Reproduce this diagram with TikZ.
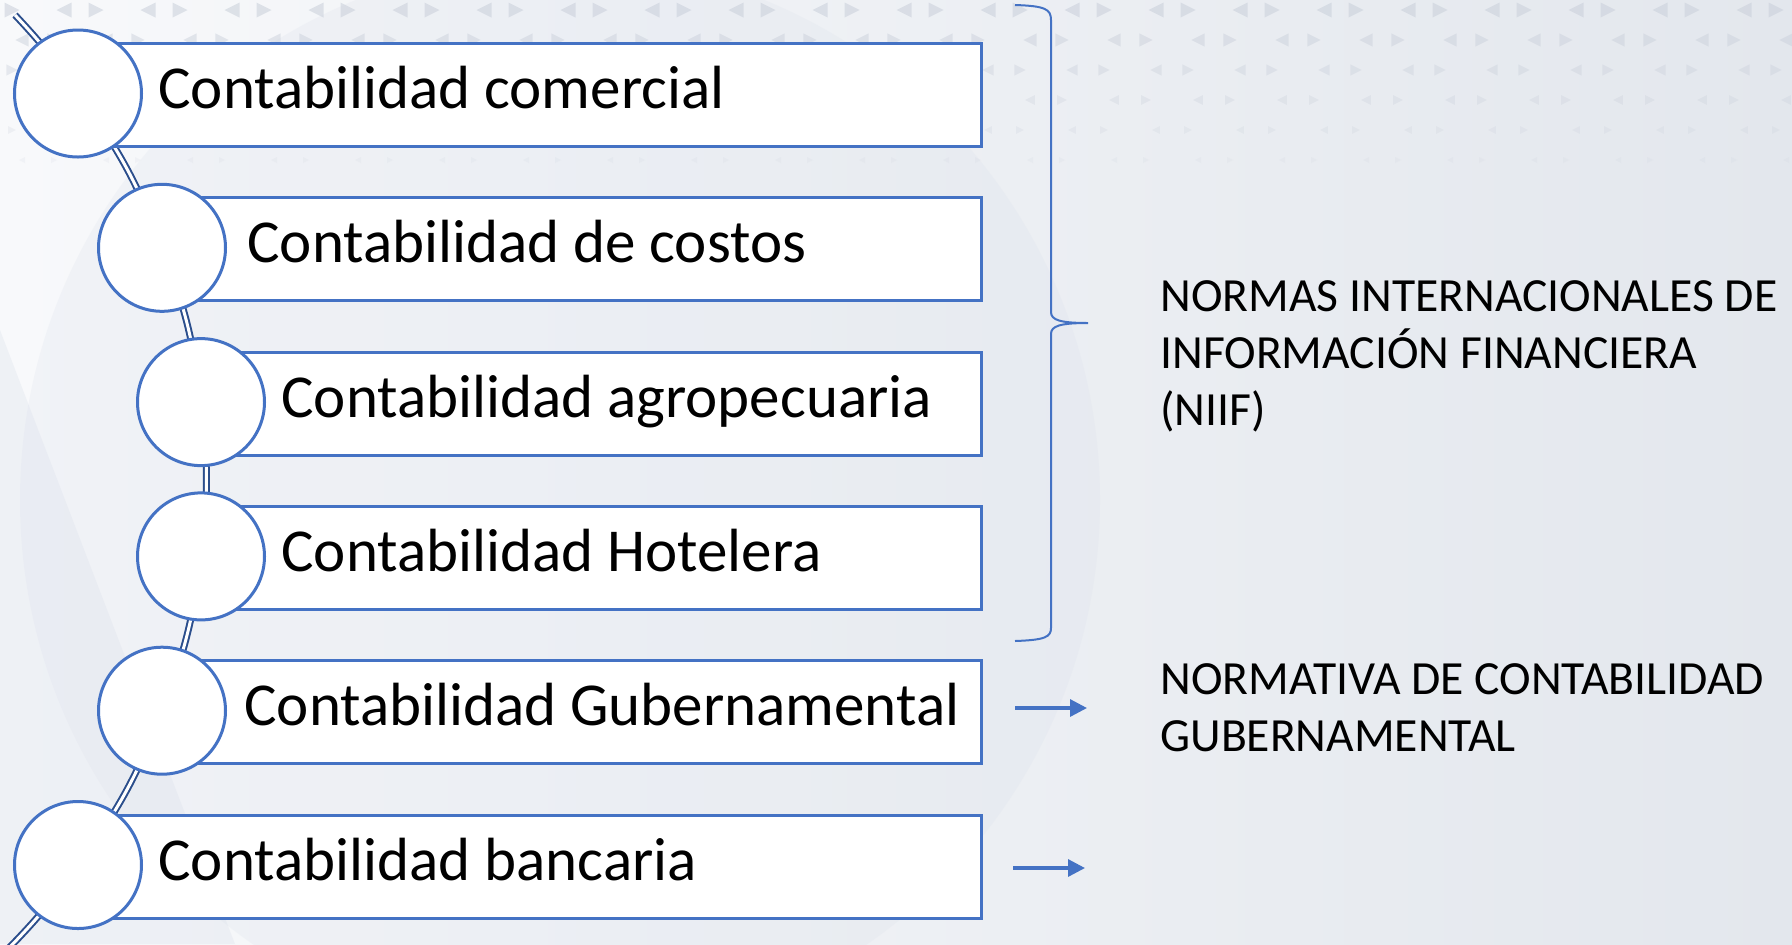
\documentclass[tikz,border=0pt]{standalone}
\usepackage{fontspec}
\setmainfont{Carlito}
\usetikzlibrary{arrows.meta}
\definecolor{ofblue}{HTML}{4472C4}
\definecolor{conncol}{HTML}{2B4E8C}
\definecolor{bgL}{HTML}{F8F9FB}
\definecolor{bgR}{HTML}{E3E7ED}
\definecolor{diskc}{HTML}{D9DFEA}
\definecolor{tric}{HTML}{C9CFDA}
\begin{document}
\begin{tikzpicture}[x=0.5pt,y=-0.5pt,
  circ/.style={circle, draw=ofblue, line width=1.5pt, fill=white, minimum size=63.5pt, inner sep=0pt},
  bar/.style={rectangle, draw=ofblue, line width=1.5pt, fill=white, minimum height=51.5pt, inner sep=0pt, anchor=north west},
  lbl/.style={anchor=base west, inner sep=0pt, font=\fontsize{30.5}{36}\selectfont},
  conn/.style={draw=conncol, line width=1pt, double=white, double distance=1.5pt},
  arr/.style={draw=ofblue, line width=1.6pt, -{Triangle[length=8.5pt,width=8.5pt]}},
  brace/.style={draw=ofblue, line width=1pt},
  note/.style={anchor=north west, inner sep=0pt, align=left, font=\fontsize{23.8}{28.5}\selectfont}]
\clip (0,0) rectangle (1792,944);
% background
\shade[left color=bgL, right color=bgR] (0,0) rectangle (1792,944);
\fill[diskc, opacity=0.22] (560,500) circle[radius=540];
\fill[diskc, opacity=0.3] (0,330) -- (235,944) -- (0,944) -- cycle;
% faint triangle pattern
\foreach \r in {0,...,5}{
  \pgfmathsetmacro{\yy}{10+30*\r}
  \pgfmathsetmacro{\ss}{15-1.8*\r}
  \pgfmathsetmacro{\op}{0.55-0.08*\r}
  \pgfmathsetmacro{\off}{mod(\r,2)*42}
  \foreach \k in {0,...,22}{
    \pgfmathsetmacro{\xx}{\off+84*\k-20}
    \fill[tric, opacity=\op] (\xx+\ss/2,\yy-\ss/2) -- (\xx-\ss/2,\yy) -- (\xx+\ss/2,\yy+\ss/2) -- cycle;
    \fill[tric, opacity=\op] (\xx+32-\ss/2,\yy-\ss/2) -- (\xx+32+\ss/2,\yy) -- (\xx+32-\ss/2,\yy+\ss/2) -- cycle;
  }
}
% circle centres and chain ends
\coordinate (c1) at (78,93.5);
\coordinate (c2) at (162,247.8);
\coordinate (c3) at (201,402.1);
\coordinate (c4) at (201,556.4);
\coordinate (c5) at (162,710.7);
\coordinate (c6) at (78,865);
\coordinate (ctop) at (15,15);
\coordinate (cbot) at (5,952);
% connectors
\draw[conn] (ctop) to[bend left=4.5] (c1);
\draw[conn] (c1) to[bend left=7.8] (c2);
\draw[conn] (c2) to[bend left=7.1] (c3);
\draw[conn] (c3) to[bend left=6.9] (c4);
\draw[conn] (c4) to[bend left=7.1] (c5);
\draw[conn] (c5) to[bend left=7.8] (c6);
\draw[conn] (c6) to[bend left=4.5] (cbot);
% bars
\node[bar, minimum width=451pt] (b1) at (78,42) {};
\node[bar, minimum width=409pt] (b2) at (162,196.3) {};
\node[bar, minimum width=389.5pt] (b3) at (201,350.6) {};
\node[bar, minimum width=389.5pt] (b4) at (201,504.9) {};
\node[bar, minimum width=409pt] (b5) at (162,659.2) {};
\node[bar, minimum width=451pt] (b6) at (78,813.5) {};
% circles
\node[circ] (k1) at (c1) {};
\node[circ] (k2) at (c2) {};
\node[circ] (k3) at (c3) {};
\node[circ] (k4) at (c4) {};
\node[circ] (k5) at (c5) {};
\node[circ] (k6) at (c6) {};
% labels
\node[lbl] (t1) at (158,108) {Contabilidad comercial};
\node[lbl] (t2) at (247,262) {Contabilidad de costos};
\node[lbl] (t3) at (281,417) {Contabilidad agropecuaria};
\node[lbl] (t4) at (281,571) {Contabilidad Hotelera};
\node[lbl] (t5) at (244,725) {Contabilidad Gubernamental};
\node[lbl] (t6) at (158,880) {Contabilidad bancaria};
% brace
\draw[brace] (1015,5) .. controls (1045,6) and (1051,9) .. (1051,20) -- (1051,312)
  .. controls (1051,320) and (1060,323) .. (1088,323)
  .. controls (1060,323) and (1051,326) .. (1051,334) -- (1051,628)
  .. controls (1051,637) and (1045,640) .. (1015,641);
% arrows
\coordinate (a1s) at (1015,708);
\coordinate (a1e) at (1087,708);
\coordinate (a2s) at (1013,868);
\coordinate (a2e) at (1085,868);
\draw[arr] (a1s) -- (a1e);
\draw[arr] (a2s) -- (a2e);
% notes
\node[note] (n1) at (1160,280) {NORMAS INTERNACIONALES DE\\INFORMACIÓN FINANCIERA\\(NIIF)};
\node[note] (n2) at (1160,663) {NORMATIVA DE CONTABILIDAD\\GUBERNAMENTAL};
\end{tikzpicture}
\end{document}
